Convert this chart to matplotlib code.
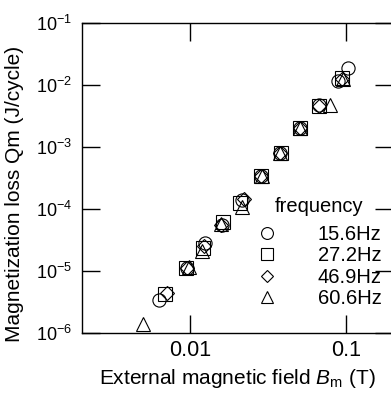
import matplotlib
matplotlib.use("Agg")
import matplotlib.pyplot as plt

plt.rcParams['font.family'] = ['Liberation Sans', 'DejaVu Sans']
plt.rcParams['mathtext.fontset'] = 'custom'
plt.rcParams['mathtext.rm'] = 'Liberation Sans'
plt.rcParams['mathtext.it'] = 'Liberation Sans:italic'

# 15.6 Hz
b_156 = [0.00632, 0.00953, 0.0125, 0.0160, 0.0215, 0.0286, 0.0379, 0.0509, 0.0677, 0.0895, 0.104]
q_156 = [3.4e-6, 1.12e-5, 2.83e-5, 5.6e-5, 1.41e-4, 3.44e-4, 8.2e-4, 2.02e-3, 4.8e-3, 1.19e-2, 1.88e-2]
# 27.2 Hz
b_272 = [0.00684, 0.00942, 0.0121, 0.0161, 0.0208, 0.0286, 0.0381, 0.0509, 0.0677, 0.0942]
q_272 = [4.3e-6, 1.12e-5, 2.35e-5, 6.2e-5, 1.25e-4, 3.44e-4, 8.2e-4, 2.02e-3, 4.7e-3, 1.30e-2]
# 46.9 Hz
b_469 = [0.00708, 0.00953, 0.0122, 0.0158, 0.0223, 0.0286, 0.0379, 0.0509, 0.0677, 0.0942]
q_469 = [4.4e-6, 1.12e-5, 2.5e-5, 5.6e-5, 1.45e-4, 3.44e-4, 8.2e-4, 2.02e-3, 4.7e-3, 1.26e-2]
# 60.6 Hz
b_606 = [0.00497, 0.00976, 0.0119, 0.0158, 0.0215, 0.0287, 0.0380, 0.0509, 0.0793, 0.0955]
q_606 = [1.41e-6, 1.15e-5, 2.07e-5, 5.7e-5, 1.10e-4, 3.4e-4, 8.0e-4, 2.02e-3, 4.8e-3, 1.25e-2]

labels = ['15.6Hz', '27.2Hz', '46.9Hz', '60.6Hz']

fig = plt.figure(figsize=(3.91, 3.98), dpi=100)
ax = fig.add_axes([0.209, 0.1633, 0.795, 0.7782])

mk = dict(linestyle='none', markerfacecolor='none', markeredgecolor='black', markeredgewidth=0.8)
ax.plot(b_156, q_156, marker='o', markersize=9.5, label=labels[0], **mk)
ax.plot(b_272, q_272, marker='s', markersize=10, label=labels[1], **mk)
ax.plot(b_469, q_469, marker='D', markersize=7, label=labels[2], **mk)
ax.plot(b_606, q_606, marker='^', markersize=10, label=labels[3], **mk)

ax.set_xscale('log')
ax.set_yscale('log')
ax.set_xlim(0.002, 0.2)
ax.set_ylim(1e-6, 1e-1)
ax.set_xticks([0.01, 0.1])
ax.set_xticklabels(['0.01', '0.1'])
ax.minorticks_off()
ax.tick_params(which='major', direction='in', length=13, width=1, top=True, right=True)
ax.tick_params(axis='x', labelsize=15.5, pad=5)
ax.tick_params(axis='y', labelsize=13, pad=7)
for s in ax.spines.values():
    s.set_linewidth(1)

ax.set_xlabel(r'External magnetic field $\mathit{B}_{\mathrm{m}}$ (T)', fontsize=15, labelpad=4)
ax.set_ylabel('Magnetization loss Qm (J/cycle)', fontsize=15)
ax.yaxis.set_label_coords(-0.186, 0.45)

leg = ax.legend(title='frequency', loc='lower right', bbox_to_anchor=(1.01, 0.035),
                frameon=False, fontsize=14.5, title_fontsize=14.5, handlelength=1,
                handletextpad=2.0, labelspacing=0.12, markerscale=0.9, borderpad=0.2)
leg._legend_box.sep = 6

fig.savefig('out.png', dpi=100)
